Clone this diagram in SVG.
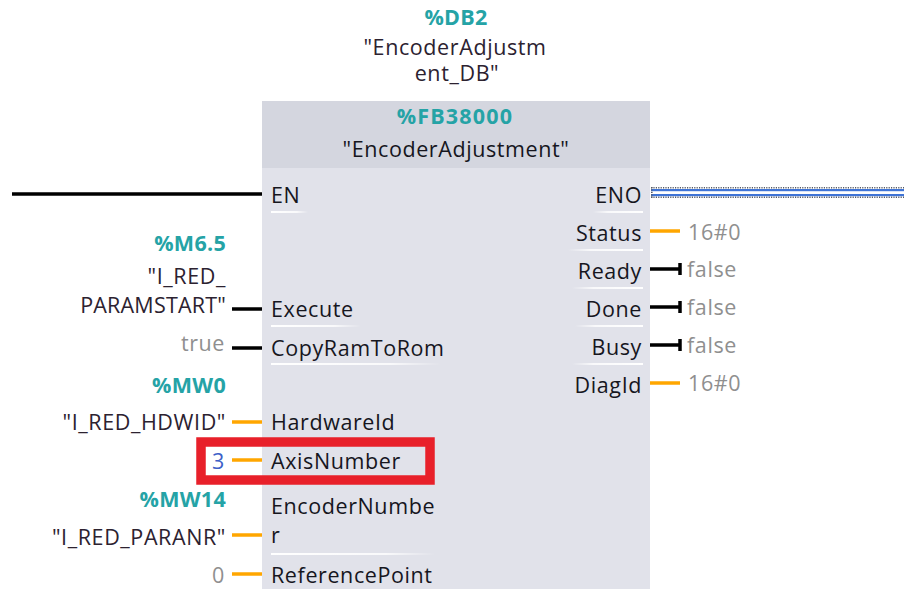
<svg xmlns="http://www.w3.org/2000/svg" width="904" height="589" viewBox="0 0 904 589">
<defs>
<linearGradient id="fadeR" x1="0" x2="1" y1="0" y2="0"><stop offset="0" stop-color="#ffffff" stop-opacity="1"/><stop offset="0.7" stop-color="#ffffff" stop-opacity="0.8"/><stop offset="1" stop-color="#ffffff" stop-opacity="0"/></linearGradient>
<linearGradient id="fadeL" x1="0" x2="1" y1="0" y2="0"><stop offset="0" stop-color="#ffffff" stop-opacity="0"/><stop offset="0.3" stop-color="#ffffff" stop-opacity="0.8"/><stop offset="1" stop-color="#ffffff" stop-opacity="1"/></linearGradient>
</defs>
<style>
text{font-family:"Open Sans","Noto Sans","DejaVu Sans",sans-serif;font-size:21.5px;letter-spacing:0.6px}
.lbl{fill:#16161e}
.addr{fill:#25a3a6;font-weight:bold;letter-spacing:0.3px}
.var{fill:#2c2230}
.val{fill:#8f8f8f}
.num{fill:#3d5fc8}
.r{text-anchor:end}
.c{text-anchor:middle}
.wb{stroke:#000;stroke-width:3.5;fill:none}
.wo{stroke:#ffa600;stroke-width:3.5;fill:none}
.sepL{fill:url(#fadeR)}
.sepR{fill:url(#fadeL)}
.dot{stroke:#555a66;stroke-width:1.6;stroke-dasharray:1.2 1.2;fill:none}
</style>
<rect width="904" height="589" fill="#ffffff"/>

<g id="instance">
<text class="addr c" x="456" y="25">%DB2</text>
<text class="var c" x="455" y="55">"EncoderAdjustm</text>
<text class="var c" x="457" y="81">ent_DB"</text>
</g>

<g id="block">
<rect x="262" y="101" width="388" height="488" fill="#e1e2ea"/>
<rect x="262" y="101" width="388" height="67" fill="#d4d6df"/>
<text class="addr c" x="455" y="124" style="letter-spacing:1.2px">%FB38000</text>
<text class="lbl c" x="456" y="157">"EncoderAdjustment"</text>
<rect class="sepL" x="271" y="211" width="37" height="2"/>
<rect class="sepL" x="271" y="325" width="90" height="2"/>
<rect class="sepL" x="271" y="363" width="170" height="2"/>
<rect class="sepL" x="271" y="553" width="164" height="2"/>
<rect class="sepR" x="593" y="211" width="50" height="2"/>
<rect class="sepR" x="568" y="249" width="75" height="2"/>
<rect class="sepR" x="572" y="287" width="71" height="2"/>
<rect class="sepR" x="575" y="325" width="68" height="2"/>
<rect class="sepR" x="572" y="363" width="71" height="2"/>
<text class="lbl" x="271" y="203">EN</text>
<text class="lbl" x="271" y="317">Execute</text>
<text class="lbl" x="271" y="356">CopyRamToRom</text>
<text class="lbl" x="271" y="430">HardwareId</text>
<text class="lbl" x="271" y="469">AxisNumber</text>
<text class="lbl" x="271" y="514">EncoderNumbe</text>
<text class="lbl" x="271" y="543">r</text>
<text class="lbl" x="271" y="583">ReferencePoint</text>
<text class="lbl r" x="642" y="203">ENO</text>
<text class="lbl r" x="642" y="241">Status</text>
<text class="lbl r" x="642" y="279">Ready</text>
<text class="lbl r" x="642" y="317">Done</text>
<text class="lbl r" x="642" y="355">Busy</text>
<text class="lbl r" x="642" y="393">DiagId</text>
</g>

<g id="inputs">
<text class="addr r" x="226" y="251">%M6.5</text>
<text class="var r" x="226" y="284">"I_RED_</text>
<text class="var r" x="226" y="313" style="letter-spacing:0.2px">PARAMSTART"</text>
<text class="val r" x="225" y="351">true</text>
<text class="addr r" x="226" y="393">%MW0</text>
<text class="var r" x="226" y="430">"I_RED_HDWID"</text>
<text class="num r" x="225" y="469">3</text>
<text class="addr r" x="226" y="507">%MW14</text>
<text class="var r" x="226" y="545">"I_RED_PARANR"</text>
<text class="val r" x="225" y="583">0</text>
</g>

<g id="outputs">
<text class="val" x="688" y="240">16#0</text>
<text class="val" x="687" y="277">false</text>
<text class="val" x="687" y="315">false</text>
<text class="val" x="687" y="353">false</text>
<text class="val" x="688" y="391">16#0</text>
</g>

<g id="connectors">
<line class="wb" x1="12" y1="194" x2="262" y2="194"/>
<g id="eno-wire">
<rect x="651" y="187" width="253" height="11" fill="#ffffff"/>
<rect x="651" y="189" width="253" height="2.2" fill="#3f74d6"/>
<rect x="651" y="194" width="253" height="2.2" fill="#3f74d6"/>
<line class="dot" x1="651" y1="187.8" x2="904" y2="187.8"/>
<line class="dot" x1="651" y1="197.2" x2="904" y2="197.2"/>
<line class="dot" x1="651.8" y1="187" x2="651.8" y2="198"/>
</g>
<line class="wb" x1="232" y1="309" x2="262" y2="309"/>
<line class="wb" x1="232" y1="348" x2="262" y2="348"/>
<line class="wo" x1="232" y1="422" x2="262" y2="422"/>
<line class="wo" x1="232" y1="460" x2="262" y2="460"/>
<line class="wo" x1="232" y1="535" x2="262" y2="535"/>
<line class="wo" x1="232" y1="574" x2="262" y2="574"/>
<line class="wo" x1="650" y1="231" x2="680" y2="231"/>
<line class="wb" x1="650" y1="269" x2="680" y2="269"/>
<line class="wb" x1="680" y1="263" x2="680" y2="275"/>
<line class="wb" x1="650" y1="307" x2="680" y2="307"/>
<line class="wb" x1="680" y1="301" x2="680" y2="313"/>
<line class="wb" x1="650" y1="345" x2="680" y2="345"/>
<line class="wb" x1="680" y1="339" x2="680" y2="351"/>
<line class="wo" x1="650" y1="383" x2="680" y2="383"/>
</g>

<g id="highlight">
<rect x="201" y="442" width="229" height="38" fill="none" stroke="#e8202a" stroke-width="9.5"/>
</g>
</svg>
